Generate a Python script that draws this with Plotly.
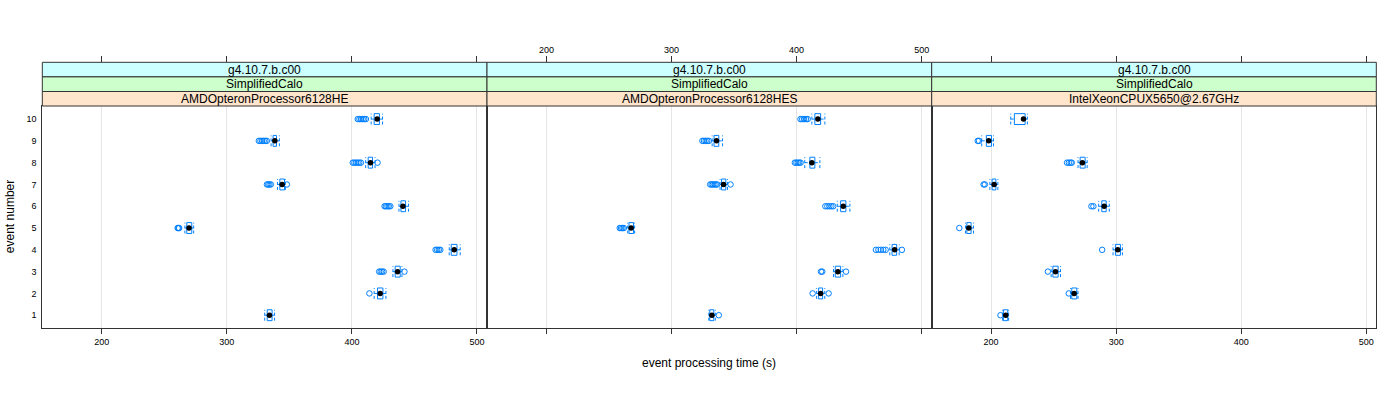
import plotly.graph_objects as go

W, H = 1400, 400
FONT = "Liberation Sans, Arial, Helvetica, sans-serif"
BLUE = "#0080ff"
FRAME = "#333333"

events = list(range(1, 11))
panel_names = ["AMDOpteronProcessor6128HE", "AMDOpteronProcessor6128HES", "IntelXeonCPUX5650@2.67GHz"]
strip_top = "g4.10.7.b.c00"
strip_mid = "SimplifiedCalo"
x_ticks = [200, 300, 400, 500]
x_range = [152.5, 508.0]
y_range = [0.4, 10.6]

# ---- Panel 1: AMDOpteronProcessor6128HE ----
p1_med = [334.1, 422.6, 436.5, 481.8, 269.8, 440.8, 344.2, 414.9, 338.4, 420.2]
p1_q1 = [332.3, 420.5, 434.6, 479.4, 268.0, 439.2, 342.4, 413.0, 337.0, 417.8]
p1_q3 = [336.2, 424.8, 438.6, 484.0, 272.0, 442.9, 346.1, 416.5, 339.7, 422.0]
p1_lo = [330.3, 417.8, 432.8, 477.8, 266.5, 437.6, 340.5, 411.0, 335.4, 415.4]
p1_hi = [338.2, 427.2, 440.0, 486.6, 273.5, 445.3, 346.8, 418.5, 342.0, 424.5]
p1_out = [
    [],
    [414.0],
    [421.8, 423.0, 424.2, 425.4, 442.0],
    [466.9, 468.2, 469.5, 470.7],
    [260.7, 261.3, 261.9],
    [426.1, 427.2, 428.4, 429.5, 430.7],
    [332.1, 333.1, 334.1, 335.2, 348.0],
    [400.7, 402.0, 403.3, 404.6, 405.9, 407.2, 420.5],
    [325.6, 326.9, 328.2, 329.5, 330.8, 332.0],
    [404.7, 406.0, 407.3, 408.6, 409.9, 411.2],
]

# ---- Panel 2: AMDOpteronProcessor6128HES ----
p2_med = [332.3, 419.2, 433.0, 478.4, 267.7, 437.3, 341.6, 412.2, 336.0, 417.0]
p2_q1 = [330.6, 417.6, 430.9, 476.3, 266.0, 435.2, 340.0, 410.6, 334.0, 414.6]
p2_q3 = [333.8, 420.8, 435.2, 480.0, 269.6, 439.4, 343.4, 414.6, 337.8, 419.2]
p2_lo = [329.8, 416.0, 429.5, 474.5, 265.0, 432.5, 338.8, 406.5, 332.5, 412.2]
p2_hi = [335.0, 422.5, 437.0, 482.0, 270.5, 442.6, 344.8, 418.6, 340.8, 422.6]
p2_out = [
    [337.8],
    [412.8, 425.6],
    [419.5, 420.5, 439.5],
    [463.4, 465.4, 467.3, 469.3, 471.2, 484.2],
    [258.6, 259.7, 260.8, 261.9],
    [423.0, 424.6, 426.2, 427.8, 429.3],
    [330.9, 332.0, 333.1, 334.3, 335.4, 336.5, 347.2],
    [398.6, 399.8, 401.0, 402.1, 403.2],
    [324.7, 326.0, 327.3, 328.6, 329.9],
    [403.1, 404.5, 406.0, 407.5, 408.9],
]

# ---- Panel 3: IntelXeonCPUX5650@2.67GHz ----
p3_med = [211.7, 266.4, 251.5, 301.3, 182.2, 290.4, 202.4, 273.0, 198.1, 225.9]
p3_q1 = [209.8, 264.5, 249.4, 299.4, 180.6, 288.5, 200.8, 271.2, 196.2, 218.6]
p3_q3 = [213.3, 268.5, 253.6, 303.4, 184.0, 292.0, 203.8, 275.2, 200.3, 227.2]
p3_lo = [209.2, 263.5, 248.0, 297.5, 179.5, 286.0, 199.0, 269.5, 192.5, 215.7]
p3_hi = [214.0, 269.5, 255.5, 305.0, 185.9, 294.5, 205.4, 276.8, 201.9, 229.0]
p3_out = [
    [207.5],
    [262.1],
    [245.4],
    [288.8],
    [174.6],
    [280.2, 281.8],
    [194.0, 195.0],
    [260.7, 262.2, 263.6, 264.5],
    [189.3, 190.3],
    [],
]

panels = [
    (p1_med, p1_q1, p1_q3, p1_lo, p1_hi, p1_out),
    (p2_med, p2_q1, p2_q3, p2_lo, p2_hi, p2_out),
    (p3_med, p3_q1, p3_q3, p3_lo, p3_hi, p3_out),
]

# ---- geometry (pixels) ----
panel_x = [42.3, 487.0, 931.7, 1376.3]
panel_top, panel_bot = 106.0, 328.3
strip_rows = [62.3, 76.9, 91.5, 106.0]
strip_cols = ["#ccffff", "#ccffcc", "#ffe5cc"]
BOX_HALF = 0.25


def px(x):
    return x / W


def py(y):
    return 1 - y / H


fig = go.Figure()

for i, (med, q1, q3, lo, hi, outs) in enumerate(panels):
    xa = "x" if i == 0 else f"x{i+1}"
    ya = "y" if i == 0 else f"y{i+1}"
    bx, by, wx, wy, cx, cy, ox, oy = [], [], [], [], [], [], [], []
    for e, m, a, b, l, h, o in zip(events, med, q1, q3, lo, hi, outs):
        bx += [a, b, b, a, a, None]
        by += [e - BOX_HALF, e - BOX_HALF, e + BOX_HALF, e + BOX_HALF, e - BOX_HALF, None]
        wx += [l, a, None, b, h, None]
        wy += [e, e, None, e, e, None]
        cx += [l, l, None, h, h, None]
        cy += [e - BOX_HALF, e + BOX_HALF, None, e - BOX_HALF, e + BOX_HALF, None]
        ox += o
        oy += [e] * len(o)
    fig.add_trace(go.Scatter(x=wx, y=wy, mode="lines", xaxis=xa, yaxis=ya,
                             line=dict(color=BLUE, width=1, dash="3px,2px"),
                             hoverinfo="skip", showlegend=False))
    fig.add_trace(go.Scatter(x=cx, y=cy, mode="lines", xaxis=xa, yaxis=ya,
                             line=dict(color=BLUE, width=1, dash="3px,2px"),
                             hoverinfo="skip", showlegend=False))
    fig.add_trace(go.Scatter(x=bx, y=by, mode="lines", xaxis=xa, yaxis=ya,
                             line=dict(color=BLUE, width=1),
                             hoverinfo="skip", showlegend=False))
    fig.add_trace(go.Scatter(x=ox, y=oy, mode="markers", xaxis=xa, yaxis=ya,
                             marker=dict(symbol="circle-open", size=5.5, color=BLUE,
                                         line=dict(width=1, color=BLUE)),
                             showlegend=False))
    fig.add_trace(go.Scatter(x=med, y=events, mode="markers", xaxis=xa, yaxis=ya,
                             marker=dict(symbol="circle", size=5.5, color="black"),
                             showlegend=False))
    # dummy trace for top tick axis
    fig.add_trace(go.Scatter(x=[None], y=[None], xaxis=f"x{i+4}", yaxis=ya,
                             showlegend=False, hoverinfo="skip"))

axis_font = dict(family=FONT, size=9, color="black")
layout = dict(
    width=W, height=H,
    margin=dict(l=0, r=0, t=0, b=0),
    paper_bgcolor="white", plot_bgcolor="white",
    font=dict(family=FONT, size=12, color="black"),
    showlegend=False,
)
for i in range(3):
    dom = [px(panel_x[i]), px(panel_x[i + 1])]
    xk = "xaxis" if i == 0 else f"xaxis{i+1}"
    yk = "yaxis" if i == 0 else f"yaxis{i+1}"
    xa = "x" if i == 0 else f"x{i+1}"
    ya = "y" if i == 0 else f"y{i+1}"
    layout[xk] = dict(
        domain=dom, anchor=ya, range=x_range, tickvals=x_ticks,
        showgrid=True, gridcolor="#e6e6e6", gridwidth=1, zeroline=False,
        showline=True, mirror=True, linecolor=FRAME, linewidth=1,
        ticks="outside", ticklen=5, tickcolor=FRAME,
        showticklabels=(i != 1), tickfont=axis_font,
    )
    layout[yk] = dict(
        domain=[py(panel_bot), py(panel_top)], anchor=xa, range=y_range,
        tickvals=events, ticktext=[str(e) for e in events],
        showgrid=False, zeroline=False,
        showline=True, mirror=True, linecolor=FRAME, linewidth=1,
        ticks="", showticklabels=(i == 0), tickfont=axis_font,
        ticklabelstandoff=3,
    )
    layout[f"xaxis{i+4}"] = dict(
        overlaying=xa, anchor="free", position=py(strip_rows[0]), side="top",
        range=x_range, tickvals=x_ticks, showgrid=False, zeroline=False,
        showline=False, ticks="outside", ticklen=6, tickcolor=FRAME,
        showticklabels=(i == 1), tickfont=axis_font,
    )

shapes = []
annotations = []
labels = [strip_top, strip_mid]
for i in range(3):
    for r in range(3):
        shapes.append(dict(
            type="rect", xref="paper", yref="paper", layer="above",
            x0=px(panel_x[i]), x1=px(panel_x[i + 1]),
            y0=py(strip_rows[r + 1]), y1=py(strip_rows[r]),
            fillcolor=strip_cols[r], line=dict(color=FRAME, width=1),
        ))
        text = labels[r] if r < 2 else panel_names[i]
        annotations.append(dict(
            text=text, xref="paper", yref="paper", showarrow=False,
            x=px((panel_x[i] + panel_x[i + 1]) / 2),
            y=py((strip_rows[r] + strip_rows[r + 1]) / 2),
            xanchor="center", yanchor="middle",
            font=dict(family=FONT, size=12, color="black"),
        ))

annotations.append(dict(
    text="event processing time (s)", xref="paper", yref="paper", showarrow=False,
    x=px((panel_x[0] + panel_x[3]) / 2), y=py(363), xanchor="center", yanchor="middle",
    font=dict(family=FONT, size=12, color="black"),
))
annotations.append(dict(
    text="event number", xref="paper", yref="paper", showarrow=False, textangle=-90,
    x=px(10), y=py((panel_top + panel_bot) / 2), xanchor="center", yanchor="middle",
    font=dict(family=FONT, size=12, color="black"),
))

layout["shapes"] = shapes
layout["annotations"] = annotations
fig.update_layout(**layout)
fig.write_html("out.html", config={"displayModeBar": False},
               post_script="document.body.style.margin='0px';document.body.style.padding='0px';")
